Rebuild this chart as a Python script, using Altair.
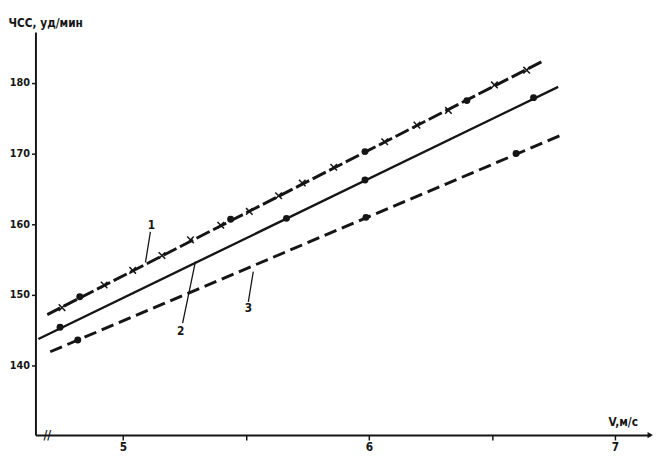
import altair as alt
import pandas as pd

FONT = "DejaVu Sans Condensed"
INK = "#151515"

# axis domains and ticks
x_domain = [4.645, 7.143]
y_domain = [130.14, 187.2]
x_ticks = [5, 5.5, 6, 6.5, 7]
y_ticks = [140, 150, 160, 170, 180]

# straight lines (start / end)
line1_x = [4.693, 6.713]
line1_y = [147.2, 183.2]
line2_x = [4.657, 6.769]
line2_y = [143.75, 179.44]
line3_x = [4.705, 6.793]
line3_y = [141.94, 172.78]

# markers on line 1: crosses and dots
l1_cross_x = [4.753, 4.924, 5.040, 5.159, 5.275, 5.398, 5.514, 5.633, 5.729, 5.857,
              6.064, 6.195, 6.323, 6.510, 6.641]
l1_cross_y = [148.19, 151.39, 153.47, 155.56, 157.78, 159.86, 161.81, 164.03, 165.83, 168.06,
              171.67, 174.03, 176.11, 179.72, 181.81]
l1_dot_x = [4.825, 5.438, 5.984, 6.398]
l1_dot_y = [149.72, 160.69, 170.28, 177.5]

# markers on line 2 and line 3
l2_dot_x = [4.745, 5.665, 5.984, 6.669]
l2_dot_y = [145.42, 160.83, 166.25, 177.92]
l3_dot_x = [4.817, 5.988, 6.598]
l3_dot_y = [143.61, 160.97, 170.0]

# curve labels with leader lines
lab_text = ["1", "2", "3"]
lab_x = [5.116, 5.235, 5.51]
lab_y = [159.9, 144.9, 148.1]
lead_x = [5.112, 5.243, 5.51]
lead_y = [158.9, 146.0, 149.0]
lead_x2 = [5.092, 5.295, 5.53]
lead_y2 = [154.6, 154.7, 153.3]

xs = alt.Scale(domain=x_domain, nice=False, zero=False)
ys = alt.Scale(domain=y_domain, nice=False, zero=False)

X_AXIS = alt.Axis(
    values=x_ticks,
    labelExpr="(datum.value == 5.5 || datum.value == 6.5) ? '' : format(datum.value, 'd')",
    title="V,м/с", titleX=599, titleY=-14, titleAlign="center",
    titleBaseline="middle", grid=False,
)
Y_AXIS = alt.Axis(
    values=y_ticks, title="ЧСС, уд/мин", titleAngle=0, titleX=-28,
    titleY=-10, titleAlign="left", titleBaseline="middle", grid=False,
    labelFontSize=11, tickSize=4,
)


def X(field="x"):
    return alt.X(f"{field}:Q", scale=xs, axis=X_AXIS)


def Y(field="y"):
    return alt.Y(f"{field}:Q", scale=ys, axis=Y_AXIS)


def line_layer(xv, yv, dash, width):
    df = pd.DataFrame({"x": xv, "y": yv})
    kw = dict(color=INK, strokeWidth=width, clip=False)
    if dash:
        kw["strokeDash"] = dash
    return alt.Chart(df).mark_line(**kw).encode(x=X(), y=Y())


l1 = line_layer(line1_x, line1_y, [15, 4], 3.0)
l2 = line_layer(line2_x, line2_y, None, 2.4)
l3 = line_layer(line3_x, line3_y, [13, 6], 3.0)

cross_df = pd.DataFrame({"x": l1_cross_x, "y": l1_cross_y})
crosses = alt.Chart(cross_df).mark_point(
    shape="M-1,-1L1,1M-1,1L1,-1", size=45, filled=False, color=INK,
    strokeWidth=1.5, opacity=1
).encode(x=X(), y=Y())

dot_df = pd.DataFrame({
    "x": l1_dot_x + l2_dot_x + l3_dot_x,
    "y": l1_dot_y + l2_dot_y + l3_dot_y,
})
dots = alt.Chart(dot_df).mark_point(
    shape="circle", size=50, filled=True, color=INK, opacity=1
).encode(x=X(), y=Y())

lead_df = pd.DataFrame({"x": lead_x, "y": lead_y, "x2": lead_x2, "y2": lead_y2})
leaders = alt.Chart(lead_df).mark_rule(color=INK, strokeWidth=1.3).encode(
    x=X(), y=Y(), x2="x2:Q", y2="y2:Q",
)

lab_df = pd.DataFrame({"x": lab_x, "y": lab_y, "t": lab_text})
labels = alt.Chart(lab_df).mark_text(
    font=FONT, fontSize=12, fontWeight="bold", color=INK, align="center", baseline="middle"
).encode(x=X(), y=Y(), text="t:N")

# axis break mark and arrow at the end of the x axis
brk_df = pd.DataFrame({"x": [4.693], "y": [y_domain[0]], "t": ["//"]})
brk = alt.Chart(brk_df).mark_text(
    font=FONT, fontSize=12, fontWeight="bold", color=INK, align="center",
    baseline="middle", clip=False
).encode(x=X(), y=Y(), text="t:N")

arr_df = pd.DataFrame({"x": [x_domain[1]], "y": [y_domain[0]]})
arrow = alt.Chart(arr_df).mark_point(
    shape="triangle-right", size=40, filled=True, color=INK, opacity=1, clip=False
).encode(x=X(), y=Y())

chart = alt.layer(l1, l2, l3, crosses, dots, leaders, labels, brk, arrow).properties(
    width=627, height=411,
    autosize=alt.AutoSizeParams(type="none"),
    padding={"left": 28, "top": 20, "right": 12, "bottom": 30},
    background="white",
).configure_view(strokeWidth=0).configure_axis(
    domainColor=INK, domainWidth=2, tickColor=INK, tickWidth=1.5, tickSize=5,
    labelFont=FONT, labelFontSize=12, labelFontWeight="bold", labelColor=INK,
    labelPadding=2, titleFont=FONT, titleFontSize=12, titleFontWeight="bold",
    titleColor=INK,
)

chart.save("out.html", embed_options={"renderer": "svg", "actions": False})
